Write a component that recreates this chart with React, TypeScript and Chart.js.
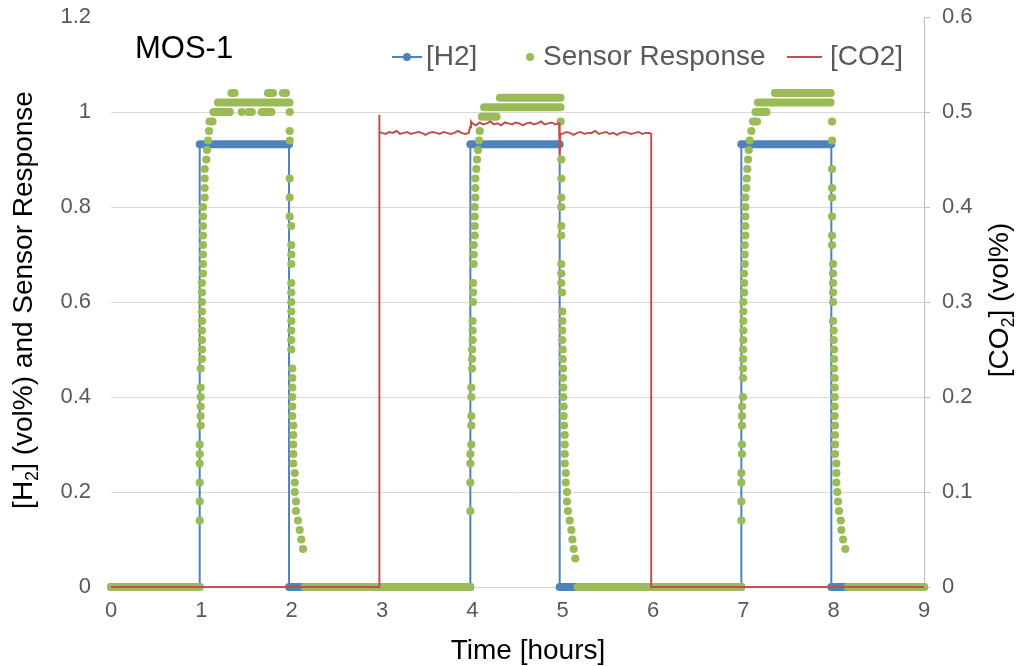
import React, { useEffect, useRef } from 'react';
import { Chart, registerables } from 'chart.js';

Chart.register(...registerables);

const FONT = '"Liberation Sans", Arial, sans-serif';
const BLUE = '#4F81BD';
const GREEN = '#9BBB59';
const RED = '#C0504D';
const TICK = '#595959';

// X axis ticks (hours)
const xTickValues = [0, 1, 2, 3, 4, 5, 6, 7, 8, 9];

// [H2] step profile (hours, vol%)
const h2Times = [0, 0.982, 0.982, 1.971, 1.971, 3.978, 3.978, 4.967, 4.967, 6.978, 6.978, 7.974, 7.974, 9];
const h2Values = [0, 0, 0.932, 0.932, 0, 0, 0.932, 0.932, 0, 0, 0.932, 0.932, 0, 0];

// Sensor response: dense constant stretches [start h, end h, value]
const sensorRuns: [number, number, number][] = [
  [0, 0.975, 0],
  [1.09, 1.124, 0.98],
  [1.135, 1.315, 1.0],
  [1.669, 1.776, 1.0],
  [1.185, 1.975, 1.02],
  [1.334, 1.367, 1.04],
  [1.738, 1.793, 1.04],
  [1.904, 1.937, 1.04],
  [2.145, 3.975, 0],
  [4.105, 4.268, 0.99],
  [4.13, 4.976, 1.01],
  [4.306, 4.976, 1.03],
  [5.165, 6.975, 0],
  [7.107, 7.151, 0.98],
  [7.135, 7.257, 1.0],
  [7.163, 7.966, 1.02],
  [7.351, 7.966, 1.04],
  [8.155, 9, 0],
];

// Sensor response: single readings on plateaus
const plateauDots: [number, number][] = [
  [1.447, 1.0], [1.52, 1.0], [1.558, 1.0],
];

// Sensor response: rise / fall readings [hours, value]
const rise1: [number, number][] = [
  [0.982, 0.14], [0.982, 0.18], [0.982, 0.22], [0.982, 0.26], [0.982, 0.28], [0.982, 0.3],
  [0.993, 0.34], [0.993, 0.36], [0.993, 0.38], [0.993, 0.4], [0.993, 0.42], [0.993, 0.46],
  [1.007, 0.48], [1.007, 0.5], [1.007, 0.52], [1.007, 0.54], [1.007, 0.56], [1.007, 0.58],
  [1.007, 0.6], [1.007, 0.62], [1.007, 0.64],
  [1.018, 0.66], [1.018, 0.68], [1.018, 0.7], [1.018, 0.72], [1.018, 0.74], [1.018, 0.76],
  [1.018, 0.78], [1.018, 0.8],
  [1.037, 0.82], [1.037, 0.84], [1.037, 0.86], [1.037, 0.88],
  [1.055, 0.9], [1.063, 0.92], [1.074, 0.94], [1.085, 0.96],
];
const fall1: [number, number][] = [
  [1.978, 1.0], [1.978, 0.96], [1.978, 0.94], [1.978, 0.86], [1.978, 0.82], [1.978, 0.78],
  [1.996, 0.76], [1.996, 0.72], [1.996, 0.7], [1.996, 0.68], [1.996, 0.64], [1.996, 0.62],
  [1.996, 0.6], [1.996, 0.58], [1.996, 0.56], [1.996, 0.54], [1.996, 0.52], [1.996, 0.5],
  [2.007, 0.46], [2.007, 0.44], [2.007, 0.42], [2.007, 0.4], [2.007, 0.38], [2.007, 0.36],
  [2.018, 0.34], [2.018, 0.32], [2.018, 0.3], [2.018, 0.28], [2.018, 0.26],
  [2.034, 0.24], [2.034, 0.22], [2.034, 0.2],
  [2.048, 0.18], [2.048, 0.16],
  [2.07, 0.14], [2.089, 0.12], [2.107, 0.1], [2.126, 0.08],
];
const rise2: [number, number][] = [
  [3.978, 0.16], [3.978, 0.22], [3.978, 0.26], [3.978, 0.28],
  [3.989, 0.3], [3.989, 0.34], [3.989, 0.36], [3.989, 0.4], [3.989, 0.42],
  [3.997, 0.46], [3.997, 0.48], [3.997, 0.5], [4.003, 0.52], [4.003, 0.54], [4.003, 0.56],
  [4.008, 0.6], [4.008, 0.62], [4.008, 0.64],
  [4.015, 0.68], [4.015, 0.7], [4.015, 0.72],
  [4.026, 0.74], [4.026, 0.76], [4.026, 0.78], [4.026, 0.8],
  [4.033, 0.82], [4.033, 0.84], [4.033, 0.86],
  [4.044, 0.88], [4.052, 0.9], [4.063, 0.92], [4.074, 0.94], [4.082, 0.96],
];
const fall2: [number, number][] = [
  [4.978, 0.98], [4.985, 0.9], [4.985, 0.86], [4.985, 0.82], [4.985, 0.8], [4.985, 0.76],
  [4.985, 0.74], [4.985, 0.68], [4.985, 0.66], [4.985, 0.64], [4.993, 0.62],
  [4.996, 0.58], [4.996, 0.56], [4.996, 0.54], [4.996, 0.52], [5.0, 0.5], [5.0, 0.48],
  [5.004, 0.46], [5.004, 0.44], [5.007, 0.42], [5.007, 0.4], [5.011, 0.38], [5.011, 0.36],
  [5.015, 0.34], [5.023, 0.32], [5.023, 0.3], [5.023, 0.28], [5.023, 0.26],
  [5.034, 0.24], [5.034, 0.22], [5.048, 0.2], [5.048, 0.18],
  [5.059, 0.16], [5.078, 0.14], [5.096, 0.12], [5.107, 0.1], [5.122, 0.08], [5.14, 0.06],
];
const rise3: [number, number][] = [
  [6.978, 0.14], [6.978, 0.18], [6.978, 0.22], [6.978, 0.24],
  [6.985, 0.28], [6.985, 0.3], [6.985, 0.34], [6.985, 0.36], [6.985, 0.38],
  [6.997, 0.4], [6.997, 0.44], [6.997, 0.46], [6.997, 0.48], [6.997, 0.5],
  [7.0, 0.52], [7.0, 0.54], [7.0, 0.56], [7.0, 0.58], [7.0, 0.6],
  [7.008, 0.62], [7.008, 0.64], [7.008, 0.66], [7.015, 0.68], [7.015, 0.7], [7.015, 0.72],
  [7.022, 0.74], [7.022, 0.76], [7.022, 0.78], [7.022, 0.8], [7.022, 0.82],
  [7.033, 0.84], [7.038, 0.86], [7.044, 0.88], [7.052, 0.9], [7.06, 0.92],
  [7.071, 0.94], [7.089, 0.96],
];
const fall3: [number, number][] = [
  [7.982, 0.98], [7.982, 0.94], [7.982, 0.88], [7.982, 0.84], [7.982, 0.82], [7.982, 0.78],
  [7.982, 0.74], [7.982, 0.72],
  [7.993, 0.68], [7.993, 0.66], [7.993, 0.64], [7.993, 0.62], [7.993, 0.6], [7.993, 0.56],
  [8.0, 0.54], [8.0, 0.52], [8.004, 0.5], [8.004, 0.48], [8.004, 0.46],
  [8.011, 0.44], [8.011, 0.42], [8.011, 0.4], [8.011, 0.38], [8.011, 0.36],
  [8.015, 0.34], [8.015, 0.32], [8.015, 0.3], [8.015, 0.28],
  [8.03, 0.26], [8.03, 0.24], [8.03, 0.22],
  [8.04, 0.2], [8.048, 0.18], [8.059, 0.16], [8.078, 0.14], [8.085, 0.12], [8.104, 0.1], [8.129, 0.08],
];

// [CO2] (vol%) readings [hours, value]
const co2Points: [number, number][] = [
  [0, 0], [2.967, 0], [2.967, 0.497], [2.975, 0.479],
  [3.0, 0.478], [3.04, 0.477], [3.08, 0.479], [3.12, 0.478], [3.16, 0.48], [3.2, 0.477],
  [3.24, 0.478], [3.28, 0.479], [3.32, 0.477], [3.36, 0.478], [3.4, 0.479], [3.44, 0.478],
  [3.48, 0.476], [3.52, 0.478], [3.56, 0.479], [3.6, 0.478], [3.64, 0.477], [3.68, 0.479],
  [3.72, 0.478], [3.76, 0.477], [3.8, 0.478], [3.84, 0.48], [3.88, 0.478], [3.92, 0.477],
  [3.96, 0.478], [3.975, 0.484], [3.985, 0.49],
  [4.0, 0.488], [4.04, 0.486], [4.08, 0.489], [4.12, 0.487], [4.16, 0.488], [4.2, 0.49],
  [4.24, 0.487], [4.28, 0.488], [4.32, 0.486], [4.36, 0.489], [4.4, 0.488], [4.44, 0.487],
  [4.48, 0.489], [4.52, 0.488], [4.56, 0.486], [4.6, 0.488], [4.64, 0.489], [4.68, 0.487],
  [4.72, 0.488], [4.76, 0.49], [4.8, 0.487], [4.84, 0.488], [4.88, 0.489], [4.92, 0.487],
  [4.96, 0.488], [4.967, 0.455], [4.975, 0.477],
  [5.0, 0.477], [5.04, 0.479], [5.08, 0.478], [5.12, 0.476], [5.16, 0.478], [5.2, 0.479],
  [5.24, 0.477], [5.28, 0.478], [5.32, 0.478], [5.36, 0.48], [5.4, 0.477], [5.44, 0.478],
  [5.48, 0.479], [5.52, 0.477], [5.56, 0.478], [5.6, 0.476], [5.64, 0.478], [5.68, 0.479],
  [5.72, 0.478], [5.76, 0.477], [5.8, 0.478], [5.84, 0.479], [5.88, 0.477], [5.92, 0.478],
  [5.96, 0.478], [5.98, 0.477], [5.98, 0], [9, 0],
];

type Part = { t: string; sub?: boolean };

function drawRich(ctx: CanvasRenderingContext2D, parts: Part[], x: number, y: number, rot: number, size: number, color: string) {
  ctx.save();
  ctx.translate(x, y);
  ctx.rotate(rot);
  ctx.fillStyle = color;
  ctx.textBaseline = 'alphabetic';
  const mainFont = `${size}px ${FONT}`;
  const subFont = `${Math.round(size * 0.65)}px ${FONT}`;
  let total = 0;
  const widths = parts.map((p) => {
    ctx.font = p.sub ? subFont : mainFont;
    const w = ctx.measureText(p.t).width;
    total += w;
    return w;
  });
  let cx = -total / 2;
  const base = size * 0.36;
  parts.forEach((p, i) => {
    ctx.font = p.sub ? subFont : mainFont;
    ctx.fillText(p.t, cx, base + (p.sub ? size * 0.2 : 0));
    cx += widths[i];
  });
  ctx.restore();
}

const overlayPlugin = {
  id: 'overlayText',
  afterDraw(chart: any) {
    const ctx: CanvasRenderingContext2D = chart.ctx;
    ctx.save();
    // panel label
    ctx.fillStyle = '#000000';
    ctx.font = `31px ${FONT}`;
    ctx.textBaseline = 'middle';
    ctx.textAlign = 'left';
    ctx.fillText('MOS-1', 135, 49);

    // legend
    const ly = 57;
    ctx.font = `28px ${FONT}`;
    ctx.strokeStyle = BLUE;
    ctx.lineWidth = 2;
    ctx.beginPath();
    ctx.moveTo(392, ly);
    ctx.lineTo(422, ly);
    ctx.stroke();
    ctx.fillStyle = BLUE;
    ctx.beginPath();
    ctx.arc(407, ly, 4, 0, Math.PI * 2);
    ctx.fill();
    ctx.fillStyle = TICK;
    ctx.fillText('[H2]', 426, ly);

    ctx.fillStyle = GREEN;
    ctx.beginPath();
    ctx.arc(530, ly, 4, 0, Math.PI * 2);
    ctx.fill();
    ctx.fillStyle = TICK;
    ctx.fillText('Sensor Response', 543, ly);

    ctx.strokeStyle = RED;
    ctx.lineWidth = 2;
    ctx.beginPath();
    ctx.moveTo(787, ly);
    ctx.lineTo(822, ly);
    ctx.stroke();
    ctx.fillStyle = TICK;
    ctx.fillText('[CO2]', 830, ly);
    ctx.restore();

    // axis titles
    drawRich(ctx, [{ t: 'Time [hours]' }], 528, 649, 0, 28, '#000000');
    drawRich(
      ctx,
      [{ t: '[H' }, { t: '2', sub: true }, { t: '] (vol%) and Sensor Response' }],
      22, 300, -Math.PI / 2, 28, '#000000'
    );
    drawRich(
      ctx,
      [{ t: '[CO' }, { t: '2', sub: true }, { t: '] (vol%)' }],
      998, 300, -Math.PI / 2, 28, '#000000'
    );
  },
};

export default function App() {
  const ref = useRef<HTMLCanvasElement | null>(null);

  useEffect(() => {
    if (!ref.current) return;
    const h2Data = h2Times.map((t, i) => ({ x: t, y: h2Values[i] }));
    const bandData: { x: number; y: number | null }[] = [];
    sensorRuns.forEach(([a, b, v]) => {
      bandData.push({ x: a, y: v }, { x: b, y: v }, { x: b, y: null });
    });
    const dots = [...rise1, ...fall1, ...rise2, ...fall2, ...rise3, ...fall3, ...plateauDots].map(
      ([t, v]) => ({ x: t, y: v })
    );
    const co2Data = co2Points.map(([t, v]) => ({ x: t, y: v }));

    const chart = new Chart(ref.current, {
      type: 'scatter',
      data: {
        datasets: [
          {
            label: '[CO2]',
            data: co2Data,
            yAxisID: 'y2',
            showLine: true,
            borderColor: RED,
            borderWidth: 2,
            pointRadius: 0,
            order: 0,
            clip: false,
          } as any,
          {
            label: 'Sensor Response',
            data: dots,
            showLine: false,
            pointRadius: 4.1,
            pointBorderWidth: 0,
            pointBackgroundColor: GREEN,
            pointBorderColor: GREEN,
            order: 1,
            clip: false,
          } as any,
          {
            label: 'Sensor Response (dense)',
            data: bandData,
            showLine: true,
            spanGaps: false,
            borderColor: GREEN,
            borderWidth: 8.2,
            borderCapStyle: 'round',
            pointRadius: 0,
            order: 2,
            clip: false,
          } as any,
          {
            label: '[H2]',
            data: h2Data,
            showLine: true,
            borderColor: BLUE,
            borderWidth: 2,
            borderCapStyle: 'round',
            borderJoinStyle: 'round',
            pointRadius: 0,
            order: 3,
            clip: false,
            segment: {
              borderWidth: (c: any) => (c.p0.parsed.y === c.p1.parsed.y ? 8 : 2),
            },
          } as any,
        ],
      },
      options: {
        animation: false,
        responsive: false,
        devicePixelRatio: 1,
        events: [],
        layout: { padding: { top: 17, left: 0, right: 0, bottom: 0 } },
        plugins: {
          legend: { display: false },
          tooltip: { enabled: false },
        },
        scales: {
          x: {
            type: 'linear',
            min: 0,
            max: 9,
            afterBuildTicks: (s: any) => {
              s.ticks = xTickValues.map((v) => ({ value: v }));
            },
            ticks: {
              color: TICK,
              font: { size: 22, family: FONT },
              padding: 11,
              maxRotation: 0,
            },
            grid: { display: true, drawOnChartArea: false, drawTicks: false },
            border: { display: true, color: '#D9D9D9', width: 1 },
            afterFit: (s: any) => {
              s.height = 79;
              s.paddingLeft = 0;
              s.paddingRight = 0;
            },
          },
          y: {
            type: 'linear',
            position: 'left',
            min: 0,
            max: 1.2,
            ticks: {
              stepSize: 0.2,
              color: TICK,
              font: { size: 22, family: FONT },
              padding: 20,
              callback: (v: any) => String(Math.round(Number(v) * 10) / 10),
            },
            grid: {
              color: (c: any) => (c.tick && c.tick.value > 1.19 ? 'rgba(0,0,0,0)' : '#D9D9D9'),
              lineWidth: 1,
              drawTicks: false,
            },
            border: { display: false },
            afterFit: (s: any) => {
              s.width = 111;
              s.paddingTop = 0;
              s.paddingBottom = 0;
            },
          },
          y2: {
            type: 'linear',
            position: 'right',
            min: 0,
            max: 0.6,
            ticks: {
              stepSize: 0.1,
              color: TICK,
              font: { size: 22, family: FONT },
              padding: 12,
              callback: (v: any) => String(Math.round(Number(v) * 10) / 10),
            },
            grid: { drawOnChartArea: false, drawTicks: true, tickLength: 6, color: '#BFBFBF' },
            border: { display: true, color: '#BFBFBF', width: 1 },
            afterFit: (s: any) => {
              s.width = 97;
              s.paddingTop = 0;
              s.paddingBottom = 0;
            },
          },
        },
      } as any,
      plugins: [overlayPlugin],
    });
    return () => chart.destroy();
  }, []);

  return (
    <div style={{ position: 'fixed', left: 0, top: 0, width: 1021, height: 666, background: '#ffffff' }}>
      <canvas ref={ref} width={1021} height={666} style={{ display: 'block', width: 1021, height: 666 }} />
    </div>
  );
}
